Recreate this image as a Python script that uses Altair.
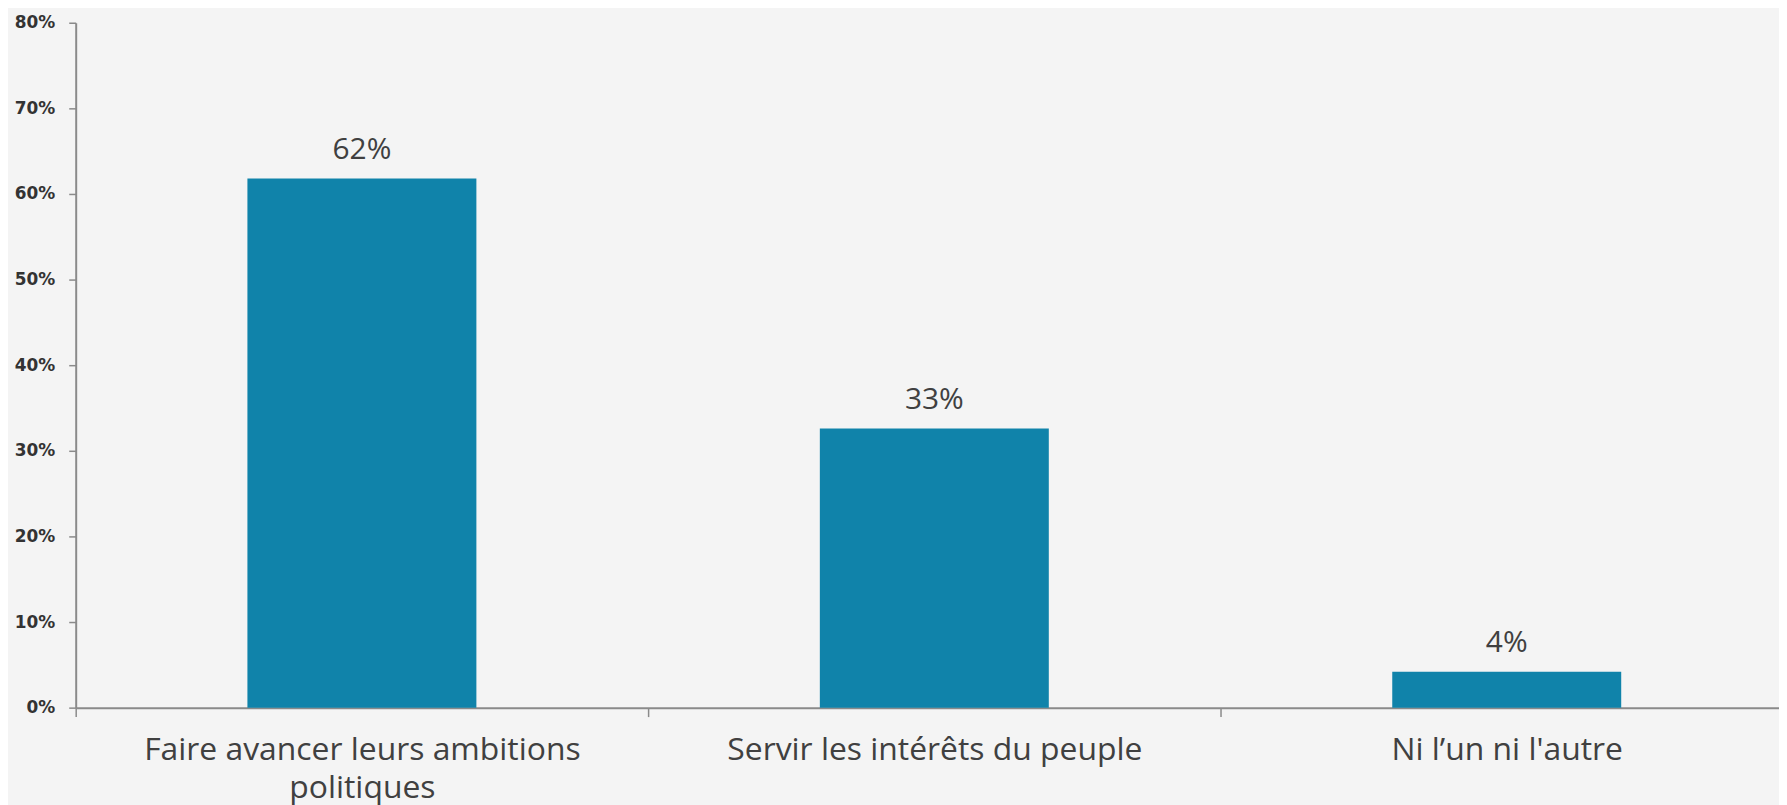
import altair as alt
import pandas as pd

categories = [
    "Faire avancer leurs ambitions politiques",
    "Servir les intérêts du peuple",
    "Ni l’un ni l'autre",
]
values = [0.618, 0.326, 0.042]
y_ticks = [0.0, 0.1, 0.2, 0.3, 0.4, 0.5, 0.6, 0.7, 0.8]

df = pd.DataFrame({"cat": categories, "val": values})

AXIS_GRAY = "#8a8a8a"
TEXT_GRAY = "#404040"
FONT = "Open Sans"

label_expr = (
    "datum.value == 'Faire avancer leurs ambitions politiques' ? "
    "['Faire avancer leurs ambitions', 'politiques'] : datum.value"
)

base = alt.Chart(df).encode(
    x=alt.X(
        "cat:N",
        sort=categories,
        scale=alt.Scale(paddingInner=0, paddingOuter=0),
        axis=alt.Axis(
            title=None,
            labelAngle=0,
            labelFont=FONT,
            labelFontSize=32,
            labelColor=TEXT_GRAY,
            labelPadding=18,
            labelLineHeight=38,
            labelLimit=0,
            labelExpr=label_expr,
            tickBand="extent",
            tickSize=9,
            tickColor=AXIS_GRAY,
            tickWidth=1.5,
            domainColor=AXIS_GRAY,
            domainWidth=2,
            grid=False,
        ),
    ),
    y=alt.Y(
        "val:Q",
        scale=alt.Scale(domain=[0, 0.8], nice=False, zero=True),
        axis=alt.Axis(
            title=None,
            values=y_ticks,
            format=".0%",
            labelFont="DejaVu Sans",
            labelFontSize=17,
            labelFontWeight="bold",
            labelColor="#333333",
            labelPadding=14,
            tickSize=7,
            tickColor=AXIS_GRAY,
            tickWidth=1.5,
            domainColor=AXIS_GRAY,
            domainWidth=2,
            grid=False,
        ),
    ),
)

bars = base.mark_bar(color="#1083AA", width=alt.RelativeBandSize(0.4))
labels = base.mark_text(
    dy=-14, baseline="bottom", font=FONT, fontSize=30, color=TEXT_GRAY
).encode(text=alt.Text("val:Q", format=".0%"))

chart = (
    alt.layer(bars, labels)
    .properties(
        width=1725,
        height=688,
        autosize=alt.AutoSizeParams(type="none"),
        padding={"left": 68, "top": 13, "right": -14, "bottom": 96},
        background="#F4F4F4",
    )
    .configure_view(stroke=None)
)

chart.save("out.html", embed_options={"renderer": "svg", "actions": False})
